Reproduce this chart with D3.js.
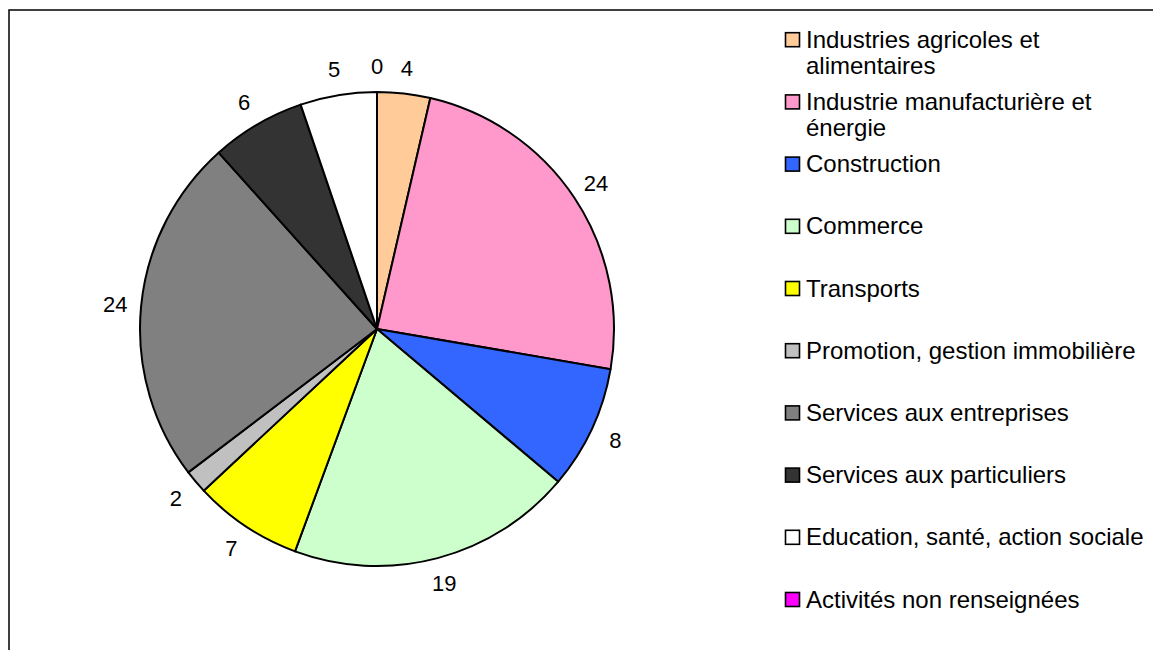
<!DOCTYPE html>
<html>
<head>
<meta charset="utf-8">
<script src="https://cdn.jsdelivr.net/npm/d3@7"></script>
<style>
  html, body { margin: 0; padding: 0; background: #fff; }
  svg { display: block; }
  text { font-family: "Liberation Sans", Arial, sans-serif; fill: #000; }
</style>
</head>
<body>
<svg id="chart" width="1153" height="650"></svg>
<script>
// ---- data ----
const categories = [
  "Industries agricoles et alimentaires",
  "Industrie manufacturière et énergie",
  "Construction",
  "Commerce",
  "Transports",
  "Promotion, gestion immobilière",
  "Services aux entreprises",
  "Services aux particuliers",
  "Education, santé, action sociale",
  "Activités non renseignées"
];
const legendLines = [
  ["Industries agricoles et", "alimentaires"],
  ["Industrie manufacturière et", "énergie"],
  ["Construction"],
  ["Commerce"],
  ["Transports"],
  ["Promotion, gestion immobilière"],
  ["Services aux entreprises"],
  ["Services aux particuliers"],
  ["Education, santé, action sociale"],
  ["Activités non renseignées"]
];
const values = [3.6, 24.0, 8.4, 19.4, 7.4, 1.6, 23.6, 6.4, 5.2, 0.0];
const colors = ["#FFCC99", "#FF99CC", "#3366FF", "#CCFFCC", "#FFFF00",
                "#C0C0C0", "#808080", "#333333", "#FFFFFF", "#FF00FF"];

// ---- drawing ----
const svg = d3.select("#chart");

// frame (extends beyond the visible area right/bottom)
svg.append("rect")
  .attr("x", 9).attr("y", 10)
  .attr("width", 1300).attr("height", 800)
  .attr("fill", "none").attr("stroke", "#000").attr("stroke-width", 1.5);

const cx = 377, cy = 329, r = 237, labelR = 263;
const data = categories.map((c, i) => ({ name: c, value: values[i], color: colors[i] }));

const pie = d3.pie().value(d => d.value).sort(null);
const arcs = pie(data);
const arc = d3.arc().innerRadius(0).outerRadius(r);
const labelArc = d3.arc().innerRadius(labelR).outerRadius(labelR);

const g = svg.append("g").attr("transform", `translate(${cx},${cy})`);

g.selectAll("path.slice")
  .data(arcs)
  .join("path")
  .attr("class", "slice")
  .attr("d", arc)
  .attr("fill", d => d.data.color)
  .attr("stroke", "#000")
  .attr("stroke-width", 2)
  .attr("stroke-linejoin", "round");

const fmt = d3.format(".0f");
g.selectAll("text.lbl")
  .data(arcs)
  .join("text")
  .attr("class", "lbl")
  .attr("transform", d => `translate(${labelArc.centroid(d)})`)
  .attr("text-anchor", "middle")
  .attr("dy", "0.36em")
  .style("font-size", "22px")
  .text(d => fmt(d.data.value));

// legend
const legend = svg.append("g");
const lx = 785, ly0 = 47.7, lstep = 62.2, lineH = 26.5;
const items = legend.selectAll("g.item")
  .data(data)
  .join("g")
  .attr("class", "item")
  .attr("transform", (d, i) => `translate(${lx},${ly0 + i * lstep})`);

items.append("rect")
  .attr("x", 0.5).attr("y", -15)
  .attr("width", 14).attr("height", 14)
  .attr("fill", d => d.color)
  .attr("stroke", "#000").attr("stroke-width", 1.6);

items.append("text")
  .style("font-size", "24px")
  .each(function(d, i) {
    const t = d3.select(this);
    legendLines[i].forEach((ln, k) => {
      t.append("tspan").attr("x", 21).attr("y", k * lineH).text(ln);
    });
  });
</script>
</body>
</html>
